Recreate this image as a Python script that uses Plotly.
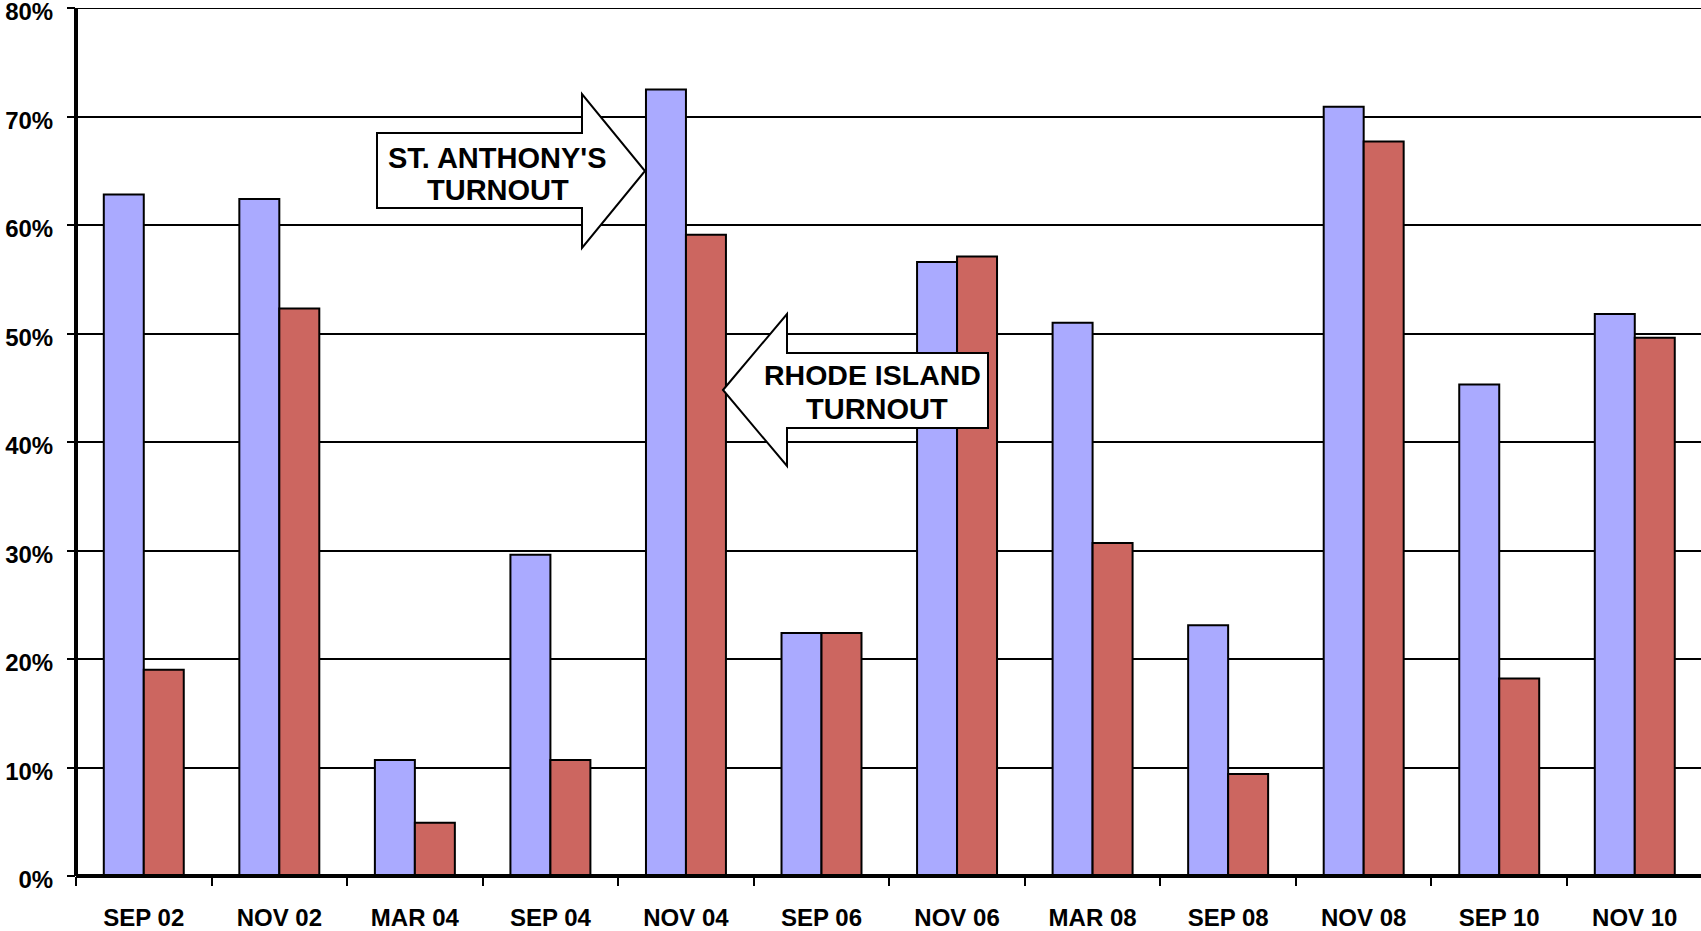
import plotly.graph_objects as go

categories = ["SEP 02", "NOV 02", "MAR 04", "SEP 04", "NOV 04", "SEP 06",
              "NOV 06", "MAR 08", "SEP 08", "NOV 08", "SEP 10", "NOV 10"]
st_anthony = [62.8, 62.4, 10.7, 29.6, 72.5, 22.4, 56.6, 51.0, 23.1, 70.9, 45.3, 51.8]
rhode_island = [19.0, 52.3, 4.9, 10.7, 59.1, 22.4, 57.1, 30.7, 9.4, 67.7, 18.2, 49.6]
y_ticks = [0, 10, 20, 30, 40, 50, 60, 70, 80]
y_labels = [f"{v}%" for v in y_ticks]

W, H = 1701, 931
L, R, T, B = 76, 0, 8, 55
PW, PH = W - L - R, H - T - B
FONT = "Liberation Sans, Arial, sans-serif"


def px(x):
    return (x - L) / PW


def py(y):
    return (H - B - y) / PH


def path(points):
    return "M " + " L ".join(f"{px(x):.5f},{py(y):.5f}" for x, y in points) + " Z"


fig = go.Figure()
fig.add_trace(go.Bar(x=categories, y=st_anthony, name="St. Anthony's",
                     marker=dict(color="#AAAAFF", line=dict(color="black", width=2))))
fig.add_trace(go.Bar(x=categories, y=rhode_island, name="Rhode Island",
                     marker=dict(color="#CC6660", line=dict(color="black", width=2))))

# top gridline at 80%
fig.add_shape(type="line", xref="paper", yref="y", x0=0, x1=1, y0=80, y1=80,
              line=dict(color="black", width=2), layer="below")
# axis lines, centred on the plot edges
fig.add_shape(type="line", xref="paper", yref="paper", x0=0, x1=0, y0=0, y1=1,
              line=dict(color="black", width=4), layer="above")
fig.add_shape(type="line", xref="paper", yref="paper", x0=0, x1=1, y0=0, y1=0,
              line=dict(color="black", width=4), layer="above")

# Arrow callouts
arrow_right = [(377, 133), (582, 133), (582, 94), (645, 171), (582, 248), (582, 208), (377, 208)]
arrow_left = [(723, 390), (787, 314), (787, 353), (988, 353), (988, 428), (787, 428), (787, 466)]
for pts in (arrow_right, arrow_left):
    fig.add_shape(type="path", xref="paper", yref="paper", path=path(pts),
                  fillcolor="white", line=dict(color="black", width=2), layer="above")

callout_lines = [
    ("ST. ANTHONY'S", 497, 158, 29),
    ("TURNOUT", 498, 189.5, 29),
    ("RHODE ISLAND", 872.5, 375.5, 28.5),
    ("TURNOUT", 876.5, 409, 29),
]
for txt, cx, cy, fs in callout_lines:
    fig.add_annotation(xref="paper", yref="paper", x=px(cx), y=py(cy),
                       xanchor="center", yanchor="middle",
                       text=f"<b>{txt}</b>", showarrow=False,
                       font=dict(family=FONT, size=fs, color="black"))

cat_w = 1491 / 11.0
fig.update_layout(
    width=W, height=H,
    margin=dict(l=L, r=R, t=T, b=B, pad=0),
    paper_bgcolor="white", plot_bgcolor="white",
    barmode="group", bargap=0.41, bargroupgap=0,
    showlegend=False,
    font=dict(family=FONT, color="black"),
    xaxis=dict(type="category", range=[-0.5, -0.5 + PW / cat_w],
               tickson="boundaries", ticks="outside", ticklen=9, tickwidth=2,
               tickcolor="black", showgrid=False, showline=False,
               tickfont=dict(family=FONT, size=24, color="black"),
               tickprefix="<b>", ticksuffix="</b>", ticklabelstandoff=25,
               automargin=False),
    yaxis=dict(range=[0, 80], tickvals=y_ticks, ticktext=[f"<b>{t}</b>" for t in y_labels],
               ticks="outside", ticklen=8, tickwidth=2, tickcolor="black",
               showgrid=True, gridcolor="black", gridwidth=2,
               showline=False, zeroline=False,
               tickfont=dict(family=FONT, size=24, color="black"), ticklabelstandoff=9,
               ticklabelshift=4, ticklabeloverflow="allow", automargin=False),
)

fig.write_html("out.html", config={"displayModeBar": False},
               post_script="document.body.style.margin='0';document.body.style.overflow='hidden';")
